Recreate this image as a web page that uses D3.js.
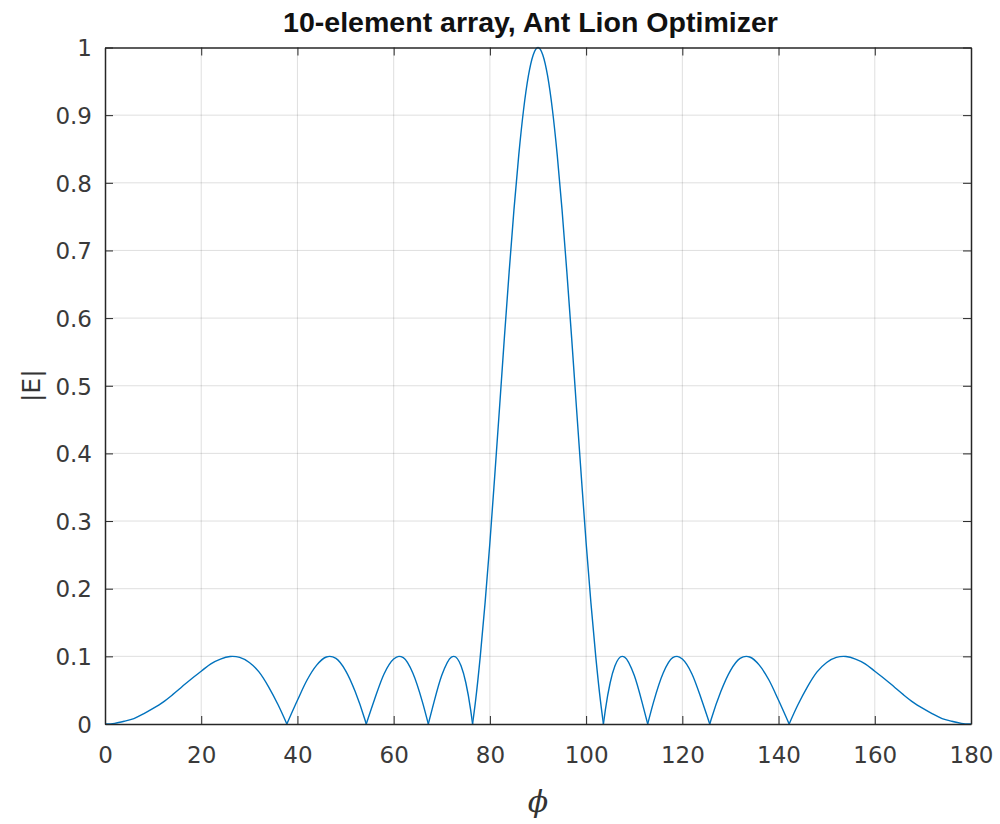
<!DOCTYPE html>
<html><head><meta charset="utf-8">
<script src="https://cdn.jsdelivr.net/npm/d3@7"></script>
<style>body{margin:0;background:#fff}svg{display:block}</style>
</head><body>
<svg id="c" width="1000" height="824"></svg>
<script>
const titleText = "10-element array, Ant Lion Optimizer";
const xLabel = "\u03D5";
const yLabel = "|E|";
const xTicks = [0,20,40,60,80,100,120,140,160,180];
const yTicks = [0,0.1,0.2,0.3,0.4,0.5,0.6,0.7,0.8,0.9,1];
const yTickLabels = ["0","0.1","0.2","0.3","0.4","0.5","0.6","0.7","0.8","0.9","1"];

const phi = [0,2,4,6,8,10,12,14,16,18,20,22,24,26,26.5,28,30,32,34,36,37.8,
  40,42,44,46,46.7,48,50,52,54,54.3,
  56,58,60,61.1,62,64,66,67.2,
  68,70,72,72.5,74,75,76,76.4,
  77,78,79,80,81,82,83,84,85,86,87,88,89,90,91,92,93,94,95,96,97,98,99,100,101,102,103,103.6,
  104,105,106,107.5,108,110,112,112.8,
  114,116,118,118.9,120,122,124,125.7,
  126,128,130,132,133.3,134,136,138,140,142.2,
  144,146,148,150,152,153.5,154,156,158,160,162,164,166,168,170,172,174,176,178,180];
const E = [0,0.001,0.004,0.008,0.015,0.023,0.032,0.043,0.055,0.067,0.078,0.089,0.096,0.0998,0.1,0.0984,0.091,0.077,0.055,0.028,0,
  0.035,0.065,0.087,0.099,0.1,0.097,0.079,0.048,0.007,0,
  0.036,0.074,0.096,0.1,0.098,0.075,0.032,0,
  0.022,0.072,0.099,0.1,0.086,0.061,0.021,0,
  0.033,0.1,0.179,0.268,0.366,0.467,0.57,0.668,0.76,0.841,0.908,0.958,0.989,1,0.989,0.958,0.908,0.841,0.76,0.668,0.57,0.467,0.366,0.268,0.179,0.1,0.033,0,
  0.021,0.061,0.086,0.1,0.099,0.072,0.022,0,
  0.032,0.075,0.098,0.1,0.096,0.074,0.036,0,
  0.007,0.048,0.079,0.097,0.1,0.099,0.087,0.065,0.035,0,
  0.028,0.055,0.077,0.091,0.0984,0.1,0.0998,0.096,0.089,0.078,0.067,0.055,0.043,0.032,0.023,0.015,0.008,0.004,0.001,0];

const L = 105, R = 971, T = 47.5, B = 724;
const svg = d3.select("#c");
const x = d3.scaleLinear().domain([0,180]).range([L,R]);
const y = d3.scaleLinear().domain([0,1]).range([B,T]);
const axisCol = "#262626";
const sans = "'DejaVu Sans', 'Liberation Sans', Arial, sans-serif";

// grid
const g = svg.append("g");
g.selectAll(".gx").data(xTicks.slice(1,-1)).enter().append("line")
  .attr("x1",d=>x(d)).attr("x2",d=>x(d)).attr("y1",T).attr("y2",B)
  .attr("stroke",axisCol).attr("stroke-opacity",0.15).attr("stroke-width",1);
g.selectAll(".gy").data(yTicks.slice(1,-1)).enter().append("line")
  .attr("y1",d=>y(d)).attr("y2",d=>y(d)).attr("x1",L).attr("x2",R)
  .attr("stroke",axisCol).attr("stroke-opacity",0.15).attr("stroke-width",1);

// data line, split into lobes at nulls
const pts = phi.map((p,i)=>({p, v:E[i]}));
const segs = [];
let cur = [];
pts.forEach((d,i)=>{
  cur.push(d);
  if (d.v === 0 && i>0 && i<pts.length-1) { segs.push(cur); cur=[d]; }
});
segs.push(cur);
const line = d3.line().x(d=>x(d.p)).y(d=>y(d.v)).curve(d3.curveMonotoneX);
svg.append("g").selectAll("path").data(segs).enter().append("path")
  .attr("d",line).attr("fill","none").attr("stroke","#0072BD").attr("stroke-width",1.4);

// axes with inward ticks
const tl = 8;
const xa = svg.append("g").attr("transform",`translate(0,${B})`)
  .call(d3.axisBottom(x).tickValues(xTicks).tickSizeInner(-tl).tickSizeOuter(0).tickPadding(23));
const xt = svg.append("g").attr("transform",`translate(0,${T})`)
  .call(d3.axisTop(x).tickValues(xTicks).tickSizeInner(-tl).tickSizeOuter(0).tickFormat(""));
const ya = svg.append("g").attr("transform",`translate(${L},0)`)
  .call(d3.axisLeft(y).tickValues(yTicks).tickSizeInner(-tl).tickSizeOuter(0).tickPadding(13)
    .tickFormat((d,i)=>yTickLabels[i]));
const yr = svg.append("g").attr("transform",`translate(${R},0)`)
  .call(d3.axisRight(y).tickValues(yTicks).tickSizeInner(-tl).tickSizeOuter(0).tickFormat(""));
[xa,xt,ya,yr].forEach(a=>{
  a.select(".domain").attr("stroke",axisCol).attr("stroke-width",1.5);
  a.selectAll(".tick line").attr("stroke",axisCol).attr("stroke-width",1);
  a.selectAll("text").attr("fill","#3a3a3a").style("font-family",sans).style("font-size","23px");
});
ya.selectAll("text").attr("dy","0.36em");

// title, sized to the reference width
const title = svg.append("text").attr("x",530.5).attr("y",32).attr("text-anchor","middle")
  .style("font-family","'Liberation Sans', Arial, sans-serif").style("font-weight","bold").style("font-size","26px")
  .attr("fill","#111").text(titleText);
const tw = title.node().getComputedTextLength();
title.style("font-size",(26*495/tw).toFixed(2)+"px");

// axis labels
svg.append("text").attr("x",538).attr("y",812).attr("text-anchor","middle")
  .style("font-family","'DejaVu Serif', 'Liberation Serif', serif").style("font-style","italic").style("font-size","30px")
  .attr("fill","#333").text(xLabel);
svg.append("text").attr("transform",`translate(40,${(T+B)/2}) rotate(-90)`).attr("text-anchor","middle")
  .style("font-family",sans).style("font-size","25px")
  .attr("fill","#333").text(yLabel);
</script>
</body></html>
